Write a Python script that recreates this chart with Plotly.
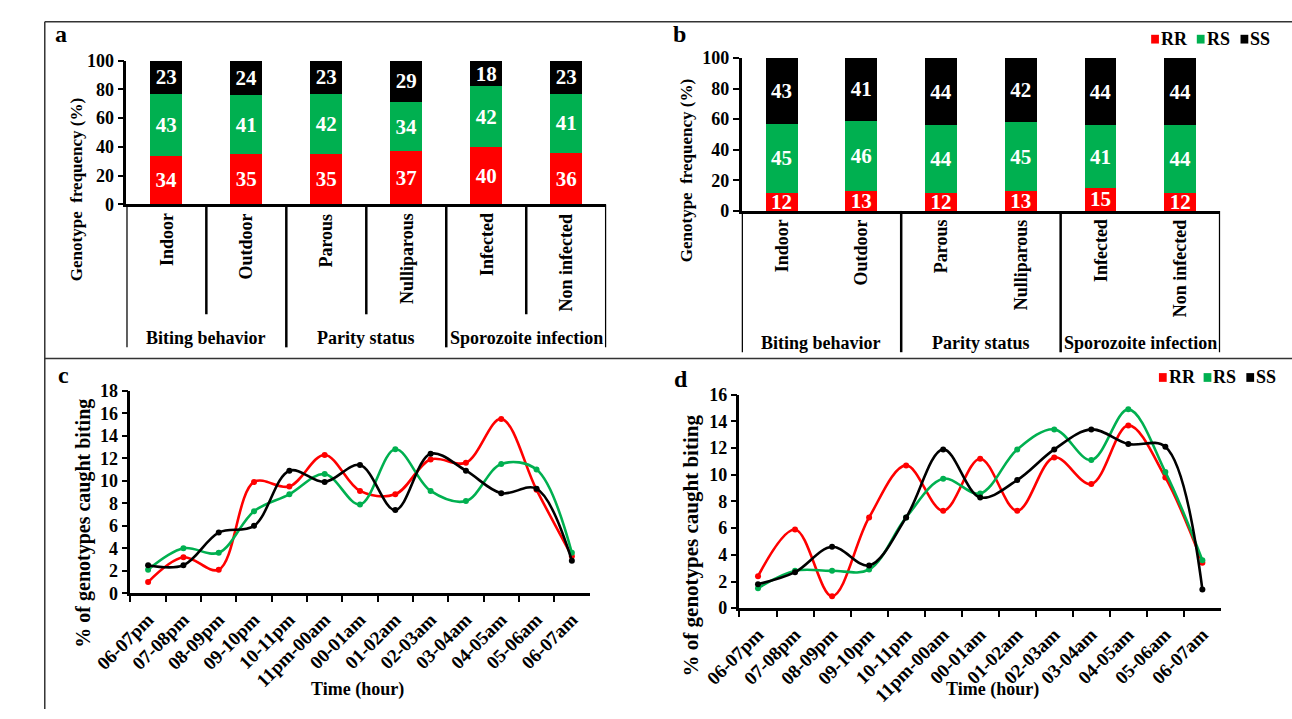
import plotly.graph_objects as go

# ---------------- data ----------------
categories = ["Indoor", "Outdoor", "Parous", "Nulliparous", "Infected", "Non infected"]
groups = ["Biting behavior", "Parity status", "Sporozoite infection"]
genotypes = ["RR", "RS", "SS"]
colors = ["#FF0000", "#00B050", "#000000"]

a_RR = [34, 35, 35, 37, 40, 36]
a_RS = [43, 41, 42, 34, 42, 41]
a_SS = [23, 24, 23, 29, 18, 23]

b_RR = [12, 13, 12, 13, 15, 12]
b_RS = [45, 46, 44, 45, 41, 44]
b_SS = [43, 41, 44, 42, 44, 44]

hours = ["06-07pm", "07-08pm", "08-09pm", "09-10pm", "10-11pm", "11pm-00am", "00-01am",
         "01-02am", "02-03am", "03-04am", "04-05am", "05-06am", "06-07am"]

c_RR = [1.0, 3.2, 2.1, 9.9, 9.5, 12.3, 9.1, 8.8, 11.9, 11.6, 15.5, 9.2, 3.3]
c_RS = [2.1, 4.0, 3.6, 7.3, 8.8, 10.6, 7.9, 12.8, 9.1, 8.2, 11.5, 11.0, 3.6]
c_SS = [2.5, 2.5, 5.4, 6.0, 10.9, 9.9, 11.4, 7.4, 12.4, 10.9, 8.9, 9.3, 2.9]

d_RR = [2.4, 5.9, 0.9, 6.8, 10.7, 7.3, 11.2, 7.3, 11.3, 9.3, 13.7, 9.8, 3.4]
d_RS = [1.5, 2.8, 2.8, 2.9, 6.8, 9.7, 8.6, 11.9, 13.4, 11.1, 14.9, 10.2, 3.6]
d_SS = [1.8, 2.7, 4.6, 3.2, 6.8, 11.9, 8.3, 9.6, 11.9, 13.4, 12.3, 12.1, 1.4]

# ---------------- figure ----------------
W, H = 1292, 719
FONT = "Liberation Serif, Times New Roman, serif"


def px(x):
    return x / W


def py(y):
    return 1 - y / H


fig = go.Figure()

bar_sets = [([a_RR, a_RS, a_SS], "x", "y"), ([b_RR, b_RS, b_SS], "x2", "y2")]
for series, xa, ya in bar_sets:
    for name, vals, col in zip(genotypes, series, colors):
        fig.add_trace(go.Bar(
            x=categories, y=vals, name=name, marker=dict(color=col, line=dict(width=0)),
            width=0.4, text=vals, texttemplate="%{text}", textposition="inside",
            insidetextanchor="middle", textangle=0, constraintext="none",
            textfont=dict(family=FONT, size=21, color="white", weight="bold"),
            xaxis=xa, yaxis=ya, showlegend=False))

line_sets = [([c_RR, c_RS, c_SS], "x3", "y3"), ([d_RR, d_RS, d_SS], "x4", "y4")]
for series, xa, ya in line_sets:
    for name, vals, col in zip(genotypes, series, colors):
        fig.add_trace(go.Scatter(
            x=hours, y=vals, name=name, mode="lines+markers",
            line=dict(color=col, width=2.6, shape="spline", smoothing=1.0),
            marker=dict(color=col, size=6),
            xaxis=xa, yaxis=ya, showlegend=False))

tickfont = dict(family=FONT, size=18, color="black", weight="bold")

common_y = dict(showgrid=False, zeroline=False, showline=True, linecolor="black", linewidth=2.5,
                ticks="outside", ticklen=6, tickwidth=2, tickcolor="black", tickfont=tickfont)

cat_x = dict(type="category", range=[-0.5, 5.5], showgrid=False, zeroline=False, showline=True,
             linecolor="black", linewidth=2.5, ticks="", showticklabels=False)

time_x = dict(type="category", range=[-0.5, 12.5], showgrid=False, zeroline=False, showline=True,
              linecolor="black", linewidth=2.5, ticks="outside", tickson="boundaries",
              ticklen=6, tickwidth=2, tickcolor="black", tickangle=-45, ticklabelstandoff=5,
              tickfont=dict(tickfont, size=19))

fig.update_layout(
    width=W, height=H, margin=dict(l=0, r=0, t=0, b=0),
    paper_bgcolor="white", plot_bgcolor="white",
    barmode="stack", bargap=0.6,
    font=dict(family=FONT, color="black"),
    xaxis=dict(cat_x, domain=[px(92), px(586)], anchor="y"),
    yaxis=dict(common_y, domain=[py(200), py(52)], range=[0, 100], dtick=20, anchor="x"),
    xaxis2=dict(cat_x, domain=[px(725.5), px(1218)], anchor="y2"),
    yaxis2=dict(common_y, domain=[py(206.7), py(49.3)], range=[0, 100], dtick=20, anchor="x2"),
    xaxis3=dict(time_x, domain=[px(96.2), px(568.8)], anchor="y3"),
    yaxis3=dict(common_y, domain=[py(600), py(391.7)], range=[0, 18], dtick=2, anchor="x3"),
    xaxis4=dict(time_x, domain=[px(723.2), px(1218.8)], anchor="y4"),
    yaxis4=dict(common_y, domain=[py(615.3), py(395.7)], range=[0, 16], dtick=2, anchor="x4"),
)

shapes = []
line_style = dict(color="black", width=2.5)
for b in [0.5, 2.5, 4.5]:
    shapes.append(dict(type="line", xref="x", yref="paper", x0=b, x1=b, y0=py(200), y1=py(313), line=line_style))
for b in [-0.5, 1.5, 3.5, 5.5]:
    shapes.append(dict(type="line", xref="x", yref="paper", x0=b, x1=b, y0=py(200), y1=py(347), line=line_style))
for b in [-0.5, 1.5, 3.5, 5.5]:
    shapes.append(dict(type="line", xref="x2", yref="paper", x0=b, x1=b, y0=py(206.7), y1=py(352), line=line_style))
frame = dict(color="#333333", width=1.5)
shapes.append(dict(type="line", xref="paper", yref="paper", x0=px(8), x1=1, y0=py(12), y1=py(12), line=frame))
shapes.append(dict(type="line", xref="paper", yref="paper", x0=px(8), x1=px(8), y0=py(12), y1=0, line=frame))
shapes.append(dict(type="line", xref="paper", yref="paper", x0=px(8), x1=1, y0=py(358.5), y1=py(358.5), line=frame))

ann = []
lab = dict(family=FONT, size=18, color="black", weight="bold")


def add_text(text, x, y, xref="paper", angle=0, font=lab, xa="center", ya="middle"):
    ann.append(dict(text=text, xref=xref, yref="paper", x=x, y=y, showarrow=False, textangle=angle,
                    xanchor=xa, yanchor=ya, font=font))


for i, c in enumerate(categories):
    add_text(c, i, py(207), xref="x", angle=-90, ya="top")
    add_text(c, i, py(213), xref="x2", angle=-90, ya="top")
for i, g in enumerate(groups):
    add_text(g, 2 * i + 0.5, py(337), xref="x")
    add_text(g, 2 * i + 0.5, py(343), xref="x2")

add_text("Genotype  frequency (%)", px(41.5), py(185), angle=-90, font=dict(lab, size=17))
add_text("Genotype  frequency (%)", px(669), py(165), angle=-90, font=dict(lab, size=17))
add_text("% of genotypes caught biting", px(47.7), py(528), angle=-90, font=dict(lab, size=20))
add_text("% of genotypes caught biting", px(673), py(551), angle=-90, font=dict(lab, size=21))
add_text("Time (hour)", px(330), py(699))
add_text("Time (hour)", px(984), py(699))

for letter, (lx, ly) in zip("abcd", [(25, 25), (661, 25), (27, 375), (663, 380)]):
    add_text(letter, px(lx), py(ly), font=dict(lab, size=24))

legend_layouts = [([1147, 1194, 1239], 30), ([1155, 1201, 1245], 378)]
for xs, ly in legend_layouts:
    for name, col, lx in zip(genotypes, colors, xs):
        shapes.append(dict(type="rect", xref="paper", yref="paper", x0=px(lx), x1=px(lx + 8),
                           y0=py(ly + 4.5), y1=py(ly - 4.5), line=dict(width=0), fillcolor=col))
        add_text(name, px(lx + 8), py(ly), xa="left")

fig.update_layout(shapes=shapes, annotations=ann)

fig.write_html("out.html")
